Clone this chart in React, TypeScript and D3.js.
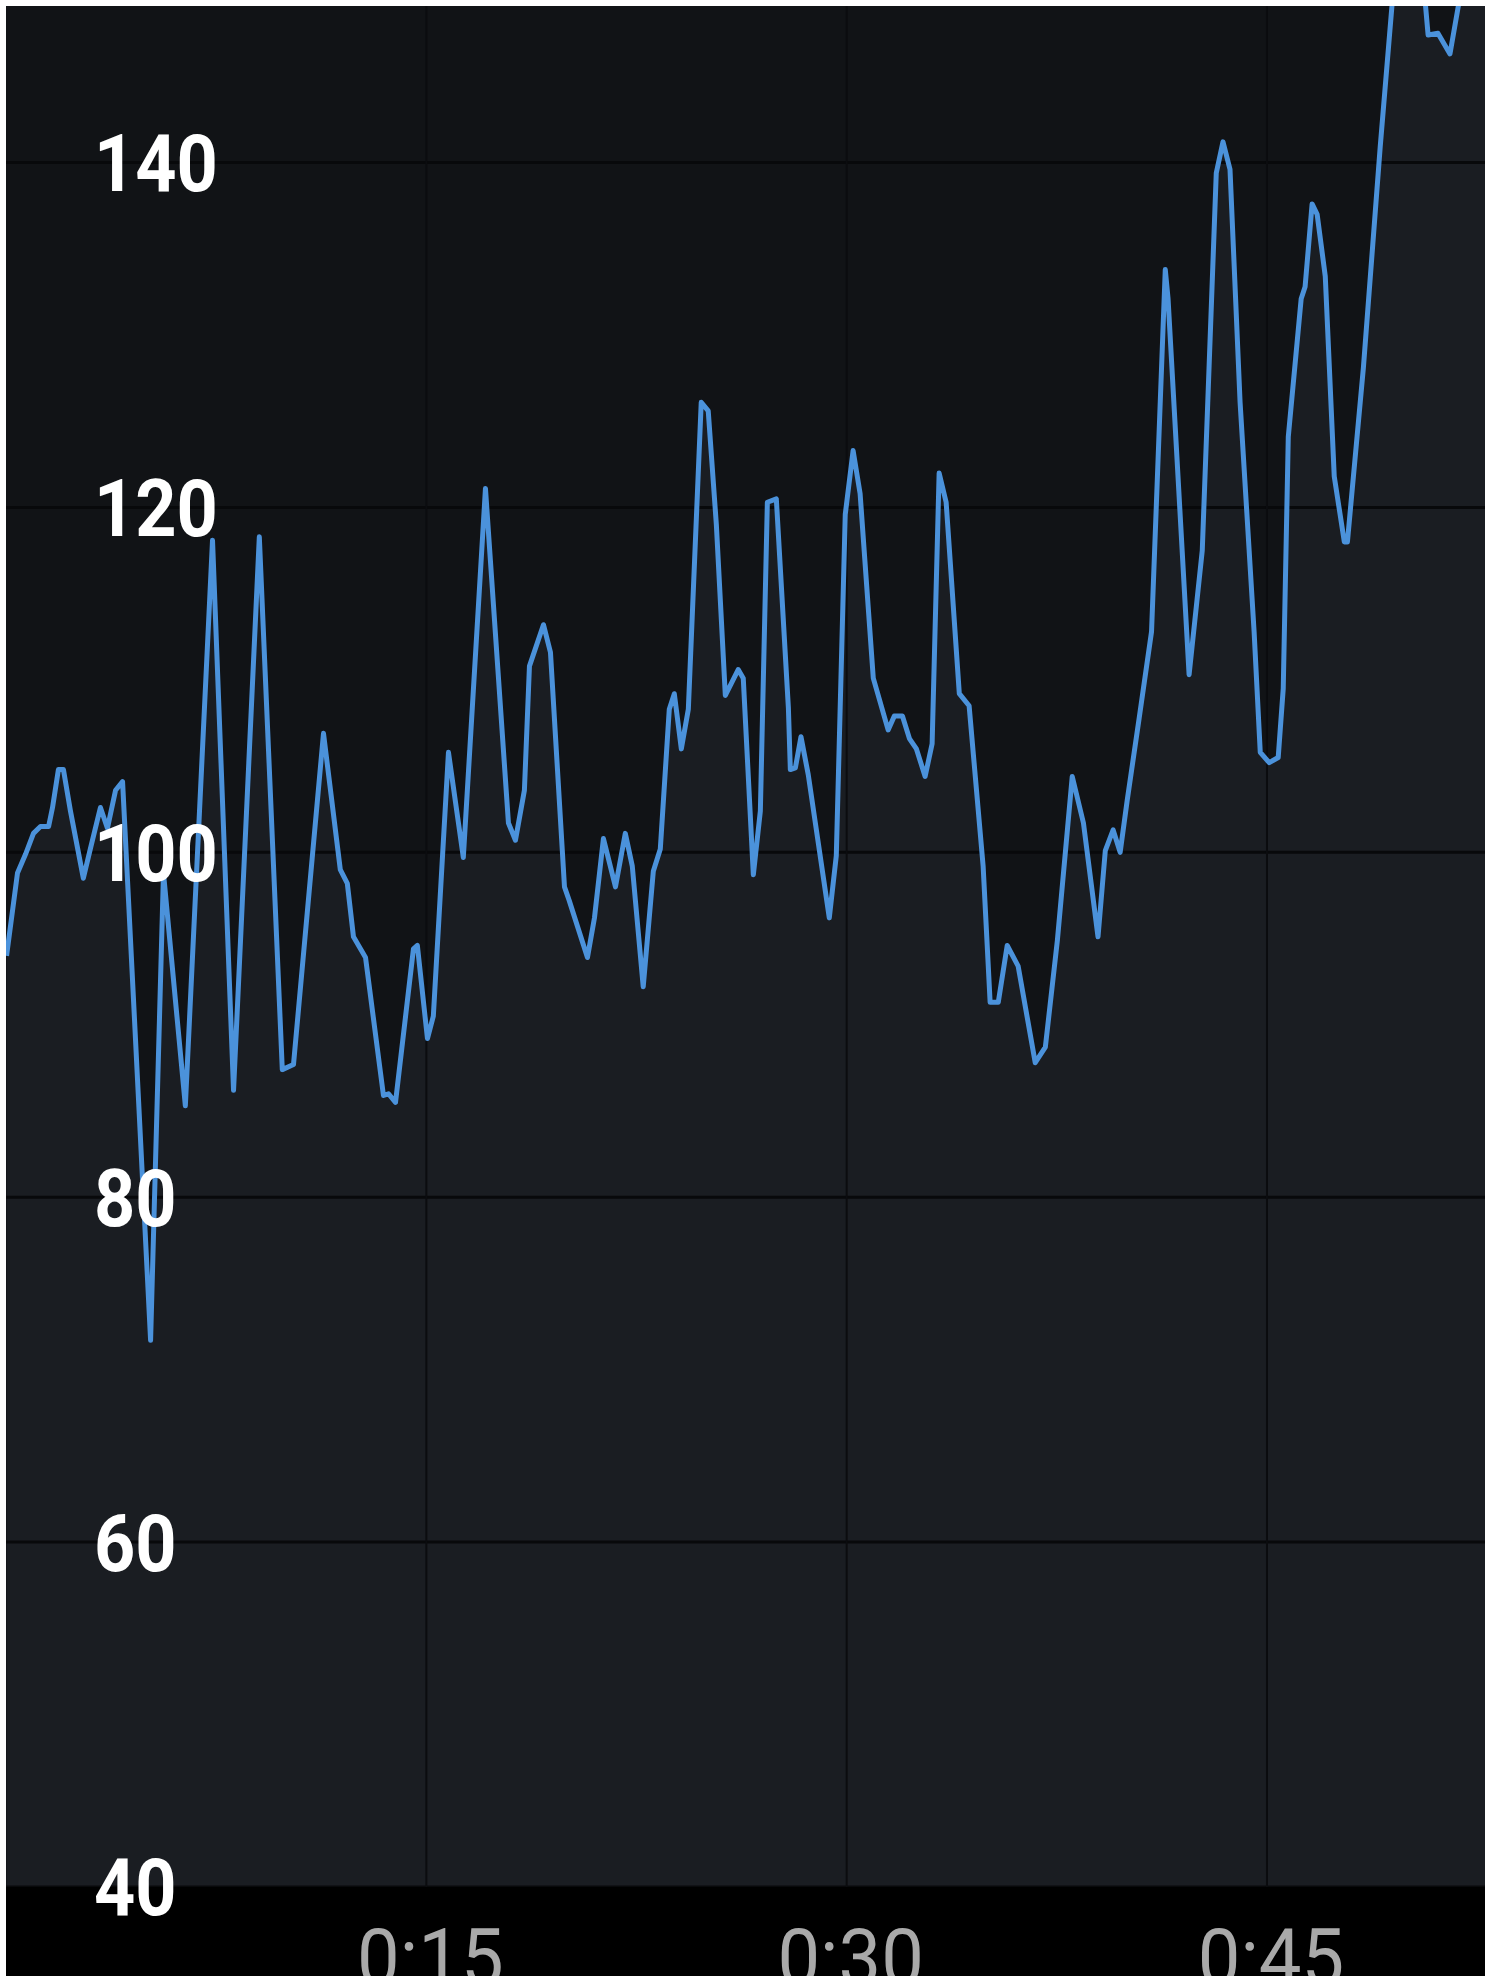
import React, { useEffect, useRef } from 'react'
import * as d3 from 'd3'

// elapsed time in minutes and the heart rate read at that moment
const minutes = [
  0.02, 0.41, 0.70, 0.98, 1.23, 1.52, 1.66, 1.87, 2.05, 2.30, 2.76, 3.01, 3.37, 3.62, 3.91, 4.16,
  5.16, 5.62, 6.40, 7.37, 8.12, 9.04, 9.86, 10.26, 11.33, 11.93, 12.18, 12.40, 12.83, 13.47, 13.65, 13.90,
  14.54, 14.68, 15.04, 15.25, 15.79, 16.32, 17.11, 17.93, 18.18, 18.50, 18.68, 19.18, 19.43, 19.93, 20.10,
  20.75, 21.00, 21.32, 21.75, 22.10, 22.35, 22.74, 23.10, 23.35, 23.67, 23.85, 24.10, 24.35, 24.81, 25.06,
  25.35, 25.67, 26.13, 26.31, 26.67, 26.92, 27.17, 27.49, 27.92, 27.99, 28.17, 28.37, 28.63, 29.38, 29.63,
  29.95, 30.23, 30.48, 30.95, 31.48, 31.70, 31.99, 32.24, 32.49, 32.80, 33.05, 33.30, 33.55, 34.02, 34.37,
  34.87, 35.12, 35.41, 35.73, 36.12, 36.73, 37.09, 37.52, 38.05, 38.45, 38.97, 39.23, 39.51, 39.76, 40.01,
  40.44, 40.88, 41.37, 41.47, 42.22, 42.69, 43.19, 43.43, 43.68, 44.04, 44.54, 44.76, 45.08, 45.40, 45.58,
  45.76, 46.22, 46.36, 46.61, 46.79, 47.08, 47.40, 47.76, 47.87, 48.44, 49.04, 49.46, 49.9, 50.5, 50.75,
  51.10, 51.53, 51.82, 52.3, 53.0
]
const heartRate = [
  94.0, 98.8, 99.9, 101.1, 101.5, 101.5, 102.6, 104.8, 104.8, 102.4, 98.5, 100.2, 102.6, 101.4, 103.6, 104.1,
  71.7, 98.8, 85.3, 118.1, 86.2, 118.3, 87.4, 87.7, 106.9, 99.0, 98.2, 95.1, 93.9, 85.9, 86.0, 85.5,
  94.4, 94.6, 89.2, 90.5, 105.8, 99.7, 121.1, 101.7, 100.7, 103.6, 110.8, 113.2, 111.6, 98.0, 97.2,
  93.9, 96.2, 100.8, 98.0, 101.1, 99.2, 92.2, 98.9, 100.2, 108.3, 109.2, 106.0, 108.3, 126.1, 125.6,
  119.0, 109.1, 110.6, 110.1, 98.7, 102.4, 120.3, 120.5, 108.4, 104.8, 104.9, 106.7, 104.5, 96.2, 99.8,
  119.6, 123.3, 120.8, 110.1, 107.1, 107.9, 107.9, 106.6, 106.0, 104.4, 106.3, 122.0, 120.3, 109.2, 108.5,
  99.2, 91.3, 91.3, 94.6, 93.4, 87.8, 88.7, 94.9, 104.4, 101.7, 95.1, 100.1, 101.3, 100.0, 103.0,
  107.8, 112.8, 133.8, 132.1, 110.3, 117.5, 139.4, 141.2, 139.6, 126.1, 112.8, 105.8, 105.2, 105.5, 109.5,
  124.1, 132.1, 132.8, 137.6, 137.0, 133.4, 121.8, 118.0, 118.0, 128.1, 140.9, 149.1, 154.0, 152.0, 147.4,
  147.5, 146.3, 149.0, 153.0, 155.0
]

const yTicks = [40, 60, 80, 100, 120, 140]
const xTicks = [15, 30, 45]
const xTickLabels = ['0:15', '0:30', '0:45']

export default function App() {
  const ref = useRef(null)

  useEffect(() => {
    // no scrollbars, the chart fills the window
    document.documentElement.style.overflow = 'hidden'
    document.body.style.overflow = 'hidden'

    const width = 1479, height = 1970, plotBottom = 1881
    const svg = d3.select(ref.current)
    svg.selectAll('*').remove()

    const x = d3.scaleLinear().domain([0, 52.78]).range([0, width])
    const y = d3.scaleLinear().domain([40, 149.08]).range([plotBottom, 0])
    const data = minutes.map((m, i) => ({ m: m, bpm: heartRate[i] }))

    svg.append('defs').append('clipPath').attr('id', 'plot')
      .append('rect').attr('width', width).attr('height', plotBottom)

    // dark background, lighter fill under the line
    svg.append('rect').attr('width', width).attr('height', plotBottom).attr('fill', '#111316')
    svg.append('path')
      .datum(data)
      .attr('clip-path', 'url(#plot)')
      .attr('fill', '#1a1d22')
      .attr('d', d3.area().x(d => x(d.m)).y0(plotBottom).y1(d => y(d.bpm)))

    // grid
    svg.append('g').selectAll('line').data(yTicks).enter().append('line')
      .attr('x1', 0).attr('x2', width)
      .attr('y1', d => y(d)).attr('y2', d => y(d))
      .attr('stroke', '#08090b').attr('stroke-width', 3)
    svg.append('g').selectAll('line').data(xTicks).enter().append('line')
      .attr('x1', d => x(d)).attr('x2', d => x(d))
      .attr('y1', 0).attr('y2', plotBottom)
      .attr('stroke', '#0b0c0f').attr('stroke-width', 2)

    svg.append('path')
      .datum(data)
      .attr('clip-path', 'url(#plot)')
      .attr('fill', 'none')
      .attr('stroke', '#4b92db')
      .attr('stroke-width', 5)
      .attr('stroke-linejoin', 'round')
      .attr('d', d3.line().x(d => x(d.m)).y(d => y(d.bpm)))

    // black strip with the time axis
    svg.append('rect').attr('y', plotBottom).attr('width', width).attr('height', height - plotBottom).attr('fill', '#000')

    svg.append('g').selectAll('text').data(yTicks).enter().append('text')
      .attr('transform', d => 'translate(88,' + (y(d) + 28.4) + ') scale(0.9,1)')
      .attr('font-family', 'Roboto, "Noto Sans", sans-serif')
      .attr('font-size', 80)
      .attr('font-weight', 700)
      .attr('fill', '#ffffff')
      .text(d => d)

    svg.append('g').selectAll('text').data(xTicks).enter().append('text')
      .attr('transform', d => 'translate(' + (x(d) + 4) + ',' + (plotBottom + 98) + ') scale(0.95,1)')
      .attr('text-anchor', 'middle')
      .attr('font-family', 'Roboto, "Noto Sans", sans-serif')
      .attr('font-size', 80)
      .attr('fill', '#a9a9a9')
      .text((d, i) => xTickLabels[i])
  }, [])

  return (
    <svg
      ref={ref}
      width={1479}
      height={1970}
      style={{ position: 'absolute', left: 6, top: 6, display: 'block', overflow: 'hidden' }}
    />
  )
}
